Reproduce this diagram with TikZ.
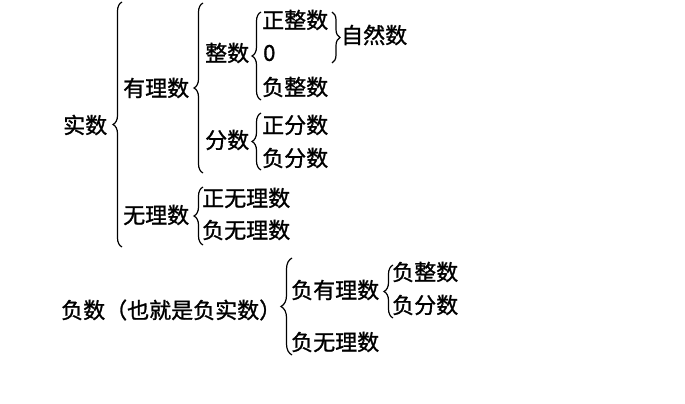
\documentclass[tikz,border=0pt]{standalone}
\usepackage{fontspec}
\setmainfont{Noto Sans CJK SC}[FakeBold=1.2]
\usetikzlibrary{decorations.pathreplacing}

\tikzset{
  lbl/.style={anchor=west, inner sep=0pt, font=\fontsize{22}{26}\selectfont},
  brc/.style={decorate, decoration={brace, amplitude=#1}, line width=1.2pt},
  brc/.default=9pt
}

\begin{document}
\begin{tikzpicture}[x=1pt, y=-1pt]

  \useasboundingbox (0,0) rectangle (685,404);

  % real numbers
  \node[lbl] (shishu) at (63,125) {实数};
  \draw[brc] (122,247) -- (122,2);

  % rational / irrational
  \node[lbl] (youli) at (123,88) {有理数};
  \node[lbl] (wuli) at (123,215) {无理数};
  \draw[brc] (203,173) -- (203,3);
  \draw[brc] (203,245) -- (203,187);

  % integers
  \node[lbl] (zhengshu) at (205,53) {整数};
  \draw[brc] (261,100) -- (261,12);
  \node[lbl] (zzs) at (262,20) {正整数};
  \node[lbl] (ling) at (263,53) {0};
  \node[lbl] (fzs) at (262,87) {负整数};

  % natural numbers
  \draw[brc=8pt] (332,12) -- (332,63);
  \node[lbl] (zrs) at (341,35) {自然数};

  % fractions
  \node[lbl] (fenshu) at (205,140) {分数};
  \draw[brc] (261,170) -- (261,113);
  \node[lbl] (zfs) at (262,125) {正分数};
  \node[lbl] (ffs) at (262,158) {负分数};

  % irrational
  \node[lbl] (zwl) at (202,198) {正无理数};
  \node[lbl] (fwl) at (202,230) {负无理数};

  % negative numbers
  \node[lbl] (fushu) at (61,310) {负数（也就是负实数）};
  \draw[brc=11pt] (292,355) -- (292,258);
  \node[lbl] (fyl) at (291,290) {负有理数};
  \node[lbl] (fwl2) at (291,342) {负无理数};
  \draw[brc] (393,318) -- (393,265);
  \node[lbl] (fzs2) at (392,272) {负整数};
  \node[lbl] (ffs2) at (392,305) {负分数};

\end{tikzpicture}
\end{document}
